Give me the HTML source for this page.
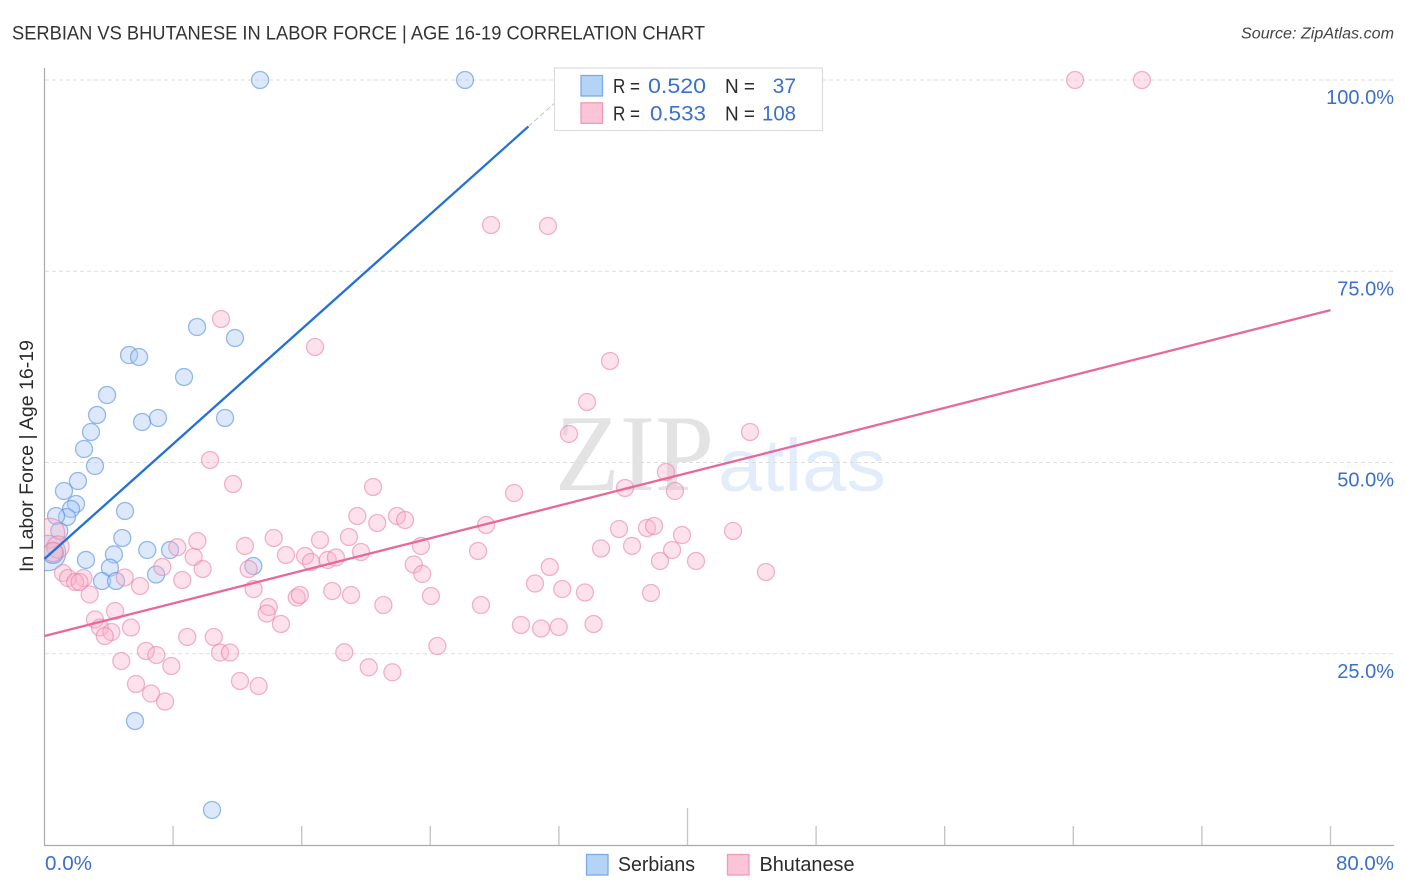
<!DOCTYPE html>
<html lang="en">
<head>
<meta charset="utf-8">
<title>Serbian vs Bhutanese in Labor Force | Age 16-19 Correlation Chart</title>
<style>
html,body{margin:0;padding:0;background:#fff;width:1406px;height:892px;overflow:hidden}
svg{display:block}
text{font-family:"Liberation Sans",sans-serif}
</style>
</head>
<body>
<svg id="chart" xmlns="http://www.w3.org/2000/svg" width="1406" height="892" viewBox="0 0 1406 892">
  <defs><clipPath id="plot-clip"><rect x="44.5" y="60" width="1350" height="786"/></clipPath></defs>
  <text x="12" y="39.5" font-size="19" fill="#333333" textLength="693" lengthAdjust="spacingAndGlyphs">SERBIAN VS BHUTANESE IN LABOR FORCE | AGE 16-19 CORRELATION CHART</text>
  <text x="1241" y="38.5" font-size="15.5" font-style="italic" fill="#444" textLength="153" lengthAdjust="spacingAndGlyphs">Source: ZipAtlas.com</text>
  <text transform="translate(33,456) rotate(-90)" font-size="19" fill="#2b2b2b" text-anchor="middle" textLength="232" lengthAdjust="spacingAndGlyphs">In Labor Force | Age 16-19</text>
  <g>
    <text x="555" y="490" font-size="109" fill="#e3e3e3" textLength="159" lengthAdjust="spacingAndGlyphs" style="font-family:'Liberation Serif',serif">ZIP</text>
    <text x="718" y="491" font-size="74" fill="#e2ecfa" textLength="168" lengthAdjust="spacingAndGlyphs">atlas</text>
  </g>
  <g id="grid"></g>
  <g id="axes"></g>
  <g id="marks" clip-path="url(#plot-clip)"></g>
  <g id="lines"></g>
  <g>
    <rect x="554.5" y="68" width="268" height="62.5" fill="#fff" stroke="#dcdcdc" stroke-width="1.2"/>
    <rect x="581" y="75.5" width="21.5" height="20.5" fill="#b5d2f7" stroke="#7dabe6" stroke-width="1.3"/>
    <rect x="581" y="102.8" width="21.5" height="20.5" fill="#fcc5d7" stroke="#f19ab6" stroke-width="1.3"/>
    <text x="613" y="93" font-size="20" fill="#2b2b2b" textLength="27" lengthAdjust="spacingAndGlyphs">R =</text>
    <text x="648" y="93" font-size="21.5" fill="#3a70cc" textLength="58" lengthAdjust="spacingAndGlyphs">0.520</text>
    <text x="725" y="93" font-size="20" fill="#2b2b2b" textLength="30" lengthAdjust="spacingAndGlyphs">N =</text>
    <text x="796" y="93" font-size="21" fill="#3a70cc" text-anchor="end">37</text>
    <text x="613" y="120.5" font-size="20" fill="#2b2b2b" textLength="27" lengthAdjust="spacingAndGlyphs">R =</text>
    <text x="650" y="120.5" font-size="21.5" fill="#3a70cc" textLength="56" lengthAdjust="spacingAndGlyphs">0.533</text>
    <text x="725" y="120.5" font-size="20" fill="#2b2b2b" textLength="30" lengthAdjust="spacingAndGlyphs">N =</text>
    <text x="762" y="120.5" font-size="21" fill="#3a70cc" textLength="34" lengthAdjust="spacingAndGlyphs">108</text>
  </g>
  <g>
    <g>
      <rect x="586.5" y="854.5" width="21.5" height="20.5" fill="#b5d2f7" stroke="#7dabe6" stroke-width="1.3"/>
      <text x="618" y="871" font-size="20" fill="#2b2b2b" textLength="77" lengthAdjust="spacingAndGlyphs">Serbians</text>
    </g>
    <g>
      <rect x="727.5" y="854.5" width="21.5" height="20.5" fill="#fcc5d7" stroke="#f19ab6" stroke-width="1.3"/>
      <text x="759.5" y="871" font-size="20" fill="#2b2b2b" textLength="95" lengthAdjust="spacingAndGlyphs">Bhutanese</text>
    </g>
  </g>
</svg>
<script>
const serbiansX = [13.41,26.16,9.49,11.85,5.26,5.88,8.68,3.89,3.27,7.06,6.07,11.23,2.89,2.46,3.14,2.08,1.21,1.96,1.65,1.40,0.72,5.01,0.92,4.84,6.39,7.81,4.32,2.58,4.07,12.99,6.94,3.58,4.45,5.63,10.42,0.22,0.53];
const serbiansY = [100,100,67.71,66.27,64.05,63.79,61.18,58.82,56.21,55.82,55.29,55.82,53.99,51.76,49.54,47.58,46.27,44.58,43.92,42.88,43.01,43.66,41.05,40.13,38.56,38.56,37.98,37.26,36.25,36.47,35.36,34.51,34.51,16.21,4.58,38.17,38.17];
const serbiansWeight = [1,1,1,1,1,1,1,1,1,1,1,1,1,1,1,1,1,1,1,1,1,1,1,1,1,1,1,1,1,1,1,1,1,1,1,4.3,1.5];
const bhutaneseX = [64.11,68.27,27.78,31.32,10.98,16.83,35.18,33.75,32.63,43.89,10.30,11.73,20.44,29.21,38.66,36.11,39.22,19.46,21.93,22.43,20.70,27.47,35.74,37.48,37.92,39.66,42.83,14.26,17.14,18.94,9.51,12.47,8.26,23.42,26.97,34.62,36.55,39.04,15.02,16.21,19.69,9.28,16.58,17.62,18.13,38.29,40.53,22.97,31.43,7.33,9.84,12.70,23.50,44.88,1.15,1.46,2.43,1.90,2.18,4.99,8.57,5.94,13.01,30.51,32.21,33.62,17.90,37.73,2.81,15.69,15.89,19.07,24.04,21.08,27.15,13.95,4.39,13.82,3.14,14.71,3.45,29.64,30.89,31.99,34.16,5.38,4.16,3.75,8.88,10.53,24.44,6.31,6.96,10.92,11.54,18.65,4.78,7.89,20.17,21.64,12.16,5.69,13.32,6.63,7.50,0.34,0.84,0.53];
const bhutaneseY = [100,100,81.05,80.92,68.76,65.10,63.27,57.91,53.73,53.99,50.33,47.19,46.80,46.01,48.76,46.67,46.27,43.01,43.01,42.48,42.09,41.83,41.31,41.44,41.70,40.52,41.05,40.13,39.87,40.26,39.74,39.09,38.92,39.09,38.43,38.76,39.09,38.56,37.91,37.78,38.30,37.65,36.99,37.26,37.58,37.12,37.12,36.67,36.34,36.34,36.08,36.08,35.43,35.69,35.56,34.90,34.90,34.38,34.38,34.97,34.64,33.86,33.46,34.18,33.46,33.01,33.20,32.94,32.75,32.35,32.68,32.68,32.55,31.37,31.37,31.11,30.59,30.26,29.48,28.89,28.43,28.76,28.30,28.50,28.89,28.43,27.84,27.32,27.19,27.19,26.01,25.36,24.84,25.16,25.16,25.19,24.05,23.40,23.23,22.58,21.44,21.05,20.78,19.80,18.76,40.78,38.96,38.30];
const bhutaneseWeight = [1,1,1,1,1,1,1,1,1,1,1,1,1,1,1,1,1,1,1,1,1,1,1,1,1,1,1,1,1,1,1,1,1,1,1,1,1,1,1,1,1,1,1,1,1,1,1,1,1,1,1,1,1,1,1,1,1,1,1,1,1,1,1,1,1,1,1,1,1,1,1,1,1,1,1,1,1,1,1,1,1,1,1,1,1,1,1,1,1,1,1,1,1,1,1,1,1,1,1,1,1,1,1,1,1,3,1.7,1.3];
const serbiansTrendIntercept = 37.4;
const serbiansTrendSlope = 1.8775;
const serbiansTrendSolidEnd = 30.1;
const bhutaneseTrendIntercept = 27.32;
const bhutaneseTrendSlope = 0.5325;
const xTicks = [0,8,16,24,32,40,48,56,64,72,80];
const yTicks = [25,50,75,100];
const yTickLabels = ["25.0%","50.0%","75.0%","100.0%"];
const xEndLabels = ["0.0%","80.0%"];

const NS = "http://www.w3.org/2000/svg";
const xScale = v => 44.5 + v * 16.075;
const yScale = v => 845 - v * 7.65;
const radius = w => 8.5 * Math.sqrt(w);
function make(tag, attrs, parent, text){
  const el = document.createElementNS(NS, tag);
  for (const k in attrs) el.setAttribute(k, attrs[k]);
  if (text !== undefined) el.textContent = text;
  parent.appendChild(el);
  return el;
}
const grid = document.getElementById('grid');
const axes = document.getElementById('axes');
const marks = document.getElementById('marks');
const lines = document.getElementById('lines');

yTicks.forEach((t, i) => {
  const g = make('line', {x1:45, x2:1393, y1:yScale(t), y2:yScale(t), stroke:'#dddddd', 'stroke-width':1, 'stroke-dasharray':'4 3'}, grid);
  
  
  const l = make('text', {x:1394, y:yScale(t)+24, 'font-size':20, fill:'#3a70cc', 'text-anchor':'end'}, axes, yTickLabels[i]);
  
  
});

const yAxis = make('line', {x1:44.5, x2:44.5, y1:68, y2:846, stroke:'#aaaaaa', 'stroke-width':1.2}, axes);


const xAxis = make('line', {x1:44, x2:1394, y1:845.5, y2:845.5, stroke:'#aaaaaa', 'stroke-width':1.2}, axes);



xTicks.forEach(t => {
  if (t === 0) return;
  const top = t === 40 ? 808 : 826;
  const tick = make('line', {x1:xScale(t), x2:xScale(t), y1:top, y2:845, stroke:'#c6c6c6', 'stroke-width':1.4}, axes);
  
  
});
const x0Label = make('text', {x:45, y:870, 'font-size':20, fill:'#3a70cc', textLength:47, lengthAdjust:'spacingAndGlyphs'}, axes, xEndLabels[0]);


const x1Label = make('text', {x:1336, y:870, 'font-size':20, fill:'#3a70cc', textLength:58, lengthAdjust:'spacingAndGlyphs'}, axes, xEndLabels[1]);



serbiansX.forEach((v, i) => {
  const c = make('circle', {cx:xScale(v), cy:yScale(serbiansY[i]), r:radius(serbiansWeight[i]), fill:'#a9c9f5', 'fill-opacity':0.4, stroke:'#5e97e0', 'stroke-opacity':0.65, 'stroke-width':1.3}, marks);
  
  
});
bhutaneseX.forEach((v, i) => {
  const c = make('circle', {cx:xScale(v), cy:yScale(bhutaneseY[i]), r:radius(bhutaneseWeight[i]), fill:'#f9b4cb', 'fill-opacity':0.38, stroke:'#ea84a6', 'stroke-opacity':0.6, 'stroke-width':1.3}, marks);
  
  
});

const serbLine = v => serbiansTrendIntercept + serbiansTrendSlope * v;
const bhuLine = v => bhutaneseTrendIntercept + bhutaneseTrendSlope * v;
const serbEnd = (100 - serbiansTrendIntercept) / serbiansTrendSlope;
const dashed = make('line', {x1:xScale(serbiansTrendSolidEnd), y1:yScale(serbLine(serbiansTrendSolidEnd)), x2:xScale(serbEnd), y2:yScale(100), stroke:'#b9c6d8', 'stroke-width':1, 'stroke-dasharray':'5 3'}, lines);


const solid = make('line', {x1:xScale(0), y1:yScale(serbLine(0)), x2:xScale(serbiansTrendSolidEnd), y2:yScale(serbLine(serbiansTrendSolidEnd)), stroke:'#2270d8', 'stroke-width':2.3}, lines);


const pinkLine = make('line', {x1:xScale(0), y1:yScale(bhuLine(0)), x2:xScale(80), y2:yScale(bhuLine(80)), stroke:'#e9689a', 'stroke-width':2.3}, lines);


</script>
</body>
</html>
